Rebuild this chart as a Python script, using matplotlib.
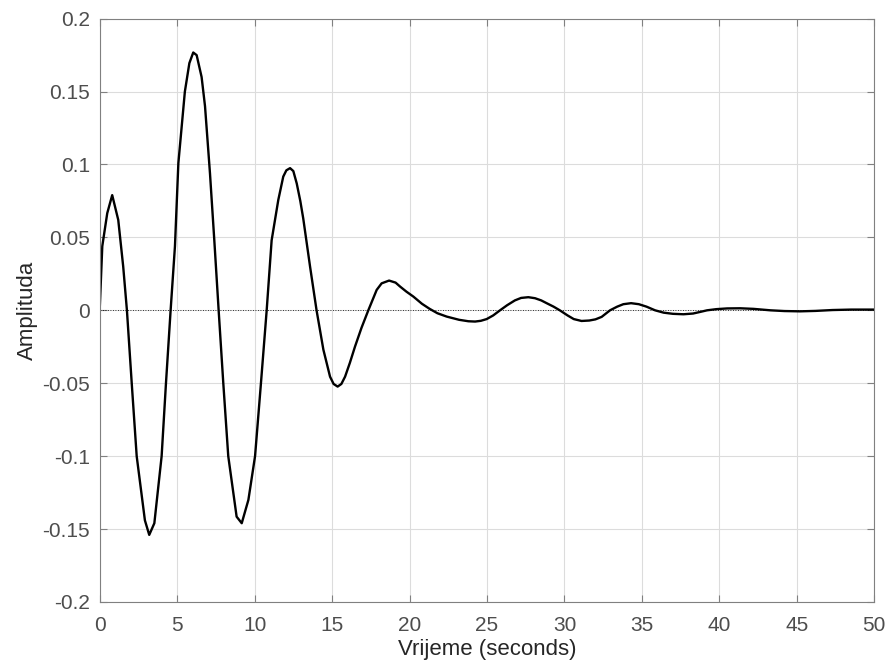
import numpy as np
import matplotlib.pyplot as plt
from matplotlib.ticker import FuncFormatter

# impulsni odziv, vrijednosti ocitane sa slike
t = [0, 0.17, 0.49, 0.81, 1.2, 1.52, 1.76, 2.07, 2.39, 2.92, 3.2, 3.53, 4.0, 4.28, 4.58,
     4.86, 5.08, 5.5, 5.79, 6.04, 6.26, 6.58, 6.8, 7.12, 7.4, 7.68, 7.98, 8.3, 8.84,
     9.17, 9.6, 10.03, 10.41, 10.78, 11.1, 11.53, 11.85, 12.05, 12.29, 12.5, 12.72,
     12.95, 13.14, 13.58, 14.0, 14.44, 14.87, 15.1, 15.36, 15.6, 15.84, 16.15, 16.48,
     16.9, 17.34, 17.88, 18.2, 18.68, 19.1, 19.39, 19.8, 20.25, 20.8, 21.3, 21.8, 22.4,
     23.2, 23.8, 24.23, 24.6, 24.98, 25.4, 25.84, 26.3, 26.8, 27.2, 27.67, 28.1, 28.5,
     28.85, 29.3, 29.7, 30.2, 30.6, 31.1, 31.6, 32.0, 32.4, 32.94, 33.4, 33.8, 34.3,
     34.8, 35.3, 35.85, 36.4, 37.0, 37.68, 38.3, 38.8, 39.2, 39.8, 40.5, 41.34, 42.2,
     43.3, 44.2, 45.2, 46.2, 47.3, 48.5, 50]
y = [0, 0.044, 0.0666, 0.079, 0.062, 0.030, 0, -0.05, -0.100, -0.144, -0.154, -0.146,
     -0.100, -0.050, 0, 0.044, 0.1009, 0.150, 0.1695, 0.1768, 0.175, 0.160, 0.140, 0.094,
     0.048, 0, -0.05, -0.100, -0.1415, -0.146, -0.130, -0.100, -0.05, 0, 0.048, 0.0757,
     0.0917, 0.0960, 0.0975, 0.0955, 0.087, 0.075, 0.0630, 0.030, 0, -0.027, -0.0455,
     -0.0505, -0.0523, -0.0505, -0.0455, -0.036, -0.0249, -0.012, 0, 0.014, 0.0185,
     0.0204, 0.0190, 0.0163, 0.0128, 0.0094, 0.0045, 0.001, -0.002, -0.0043, -0.0065,
     -0.0075, -0.0077, -0.0072, -0.006, -0.0035, 0, 0.0035, 0.0068, 0.0085, 0.009, 0.0083,
     0.0068, 0.0049, 0.0025, 0, -0.0035, -0.006, -0.0073, -0.0070, -0.0062, -0.0045, 0,
     0.0025, 0.0042, 0.0049, 0.0042, 0.0025, 0, -0.0016, -0.0024, -0.0027, -0.0022,
     -0.001, 0, 0.0008, 0.0013, 0.0014, 0.001, 0, -0.0005, -0.0007, -0.0004, 0.0002,
     0.0005, 0.0005]

xticks = [0, 5, 10, 15, 20, 25, 30, 35, 40, 45, 50]
yticks = [-0.2, -0.15, -0.1, -0.05, 0, 0.05, 0.1, 0.15, 0.2]

plt.rcParams['font.family'] = ['Liberation Sans', 'DejaVu Sans']
fig = plt.figure(figsize=(8.89, 6.67), dpi=100)
ax = fig.add_axes([0.1121, 0.0975, 0.8714, 0.8745])

ax.plot(t, y, color='black', lw=1.7)
ax.axhline(0, color='black', lw=0.6, ls=(0, (1, 2)))

ax.set_xlim(0, 50)
ax.set_ylim(-0.2, 0.2)
ax.set_xticks(xticks)
ax.set_yticks(yticks)
ax.yaxis.set_major_formatter(FuncFormatter(lambda v, p: '%g' % v))
ax.grid(True, color='#dcdcdc', lw=0.8)
ax.set_axisbelow(True)
for s in ax.spines.values():
    s.set_color('#808080')
    s.set_linewidth(0.8)
ax.tick_params(direction='in', length=5, width=0.8, colors='#808080',
               labelcolor='#4d4d4d', labelsize=15, top=True, right=True,
               labeltop=False, labelright=False)
ax.tick_params(axis='y', pad=7)
ax.tick_params(axis='x', pad=10)
ax.set_xlabel('Vrijeme (seconds)', fontsize=16, color='#262626', labelpad=3)
ax.set_ylabel('Amplituda', fontsize=16, color='#262626', labelpad=3)

fig.savefig('out.png', dpi=100)
